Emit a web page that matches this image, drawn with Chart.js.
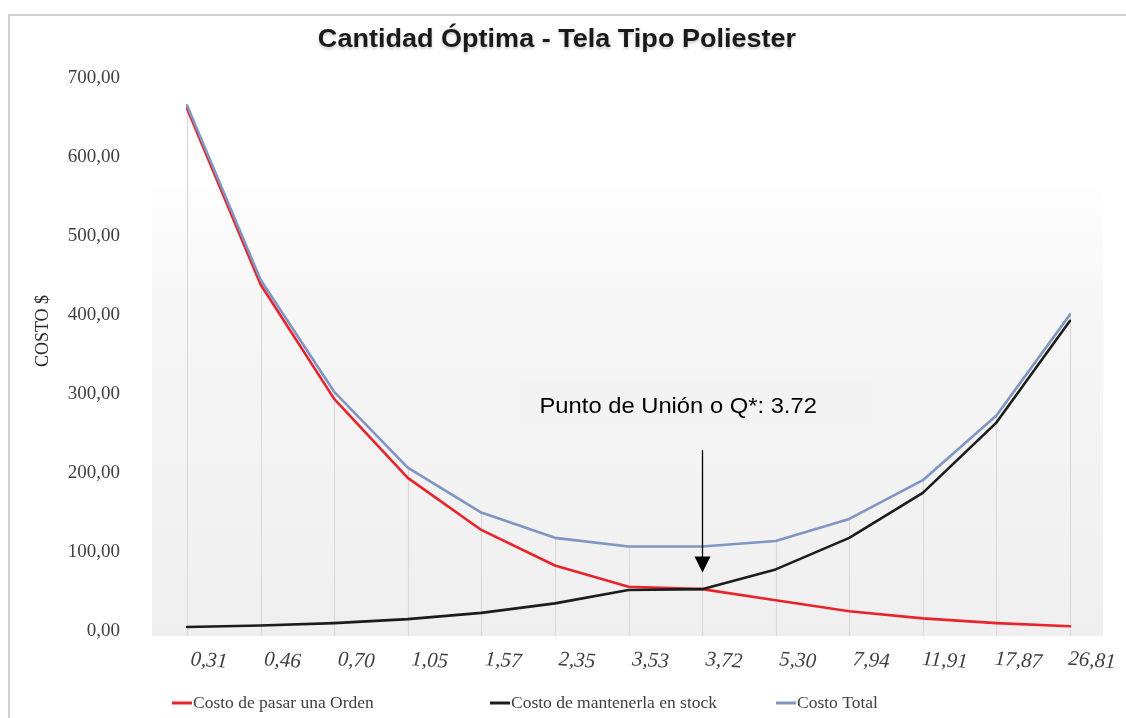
<!DOCTYPE html>
<html>
<head>
<meta charset="utf-8">
<script src="https://cdn.jsdelivr.net/npm/chart.js@4.4.1/dist/chart.umd.min.js"></script>
<style>
  html, body { margin: 0; padding: 0; background: #ffffff; }
  #wrap { width: 1126px; height: 718px; position: relative; }
</style>
</head>
<body>
<div id="wrap"><canvas id="grafico" width="1126" height="718"></canvas></div>
<script>
// Cantidades de pedido (Q) en el eje horizontal
const cantidades = ['0,31', '0,46', '0,70', '1,05', '1,57', '2,35', '3,53', '3,72', '5,30', '7,94', '11,91', '17,87', '26,81'];
// Costos por serie ($)
const costoOrden    = [662, 439, 294, 194, 128, 83, 56, 53, 39, 25, 16, 10, 6];
const costoMantener = [5, 7, 10, 15, 23, 35, 52, 53, 78, 118, 175, 264, 393];
const costoTotal    = [666, 445, 303, 207, 150, 118, 107, 107, 114, 142, 191, 273, 401];
// Etiquetas del eje vertical
const yTickLabels = ['0,00', '100,00', '200,00', '300,00', '400,00', '500,00', '600,00', '700,00'];
const nombresSeries = ['Costo de pasar una Orden', 'Costo de mantenerla en stock', 'Costo Total'];
const coloresSeries = ['#e8232b', '#1c1c1c', '#7f95c2'];
const tituloGrafico = 'Cantidad Óptima - Tela Tipo Poliester';
const tituloEjeY = 'COSTO $';
const notaTexto = 'Punto de Unión o Q*: 3.72';
const notaIndice = 7;

const SERIF = '"Liberation Serif", "Times New Roman", serif';
const SANS = '"Liberation Sans", Arial, sans-serif';

// Texto con un leve ensanche horizontal
function textoAncho(ctx, txt, x, y, sx) {
  ctx.save();
  ctx.translate(x, y);
  ctx.scale(sx, 1);
  ctx.fillText(txt, 0, 0);
  ctx.restore();
}

// Fondo, marco, área sombreada del gráfico
const fondoPlugin = {
  id: 'fondo',
  beforeDraw(chart) {
    const { ctx, chartArea: ca, scales } = chart;
    ctx.save();
    ctx.fillStyle = '#ffffff';
    ctx.fillRect(0, 0, chart.width, chart.height);
    // marco exterior
    ctx.strokeStyle = '#d0d0d0';
    ctx.lineWidth = 2;
    ctx.beginPath();
    ctx.moveTo(9, chart.height + 2);
    ctx.lineTo(9, 15);
    ctx.lineTo(chart.width + 2, 15);
    ctx.stroke();
    // área de trazado con degradado suave
    const top = scales.y.getPixelForValue(560);
    const bottom = ca.bottom + 5;
    const g = ctx.createLinearGradient(0, top, 0, bottom);
    g.addColorStop(0, 'rgba(246,246,246,0.2)');
    g.addColorStop(0.25, '#f7f7f7');
    g.addColorStop(1, '#efefef');
    ctx.fillStyle = g;
    ctx.fillRect(ca.left - 35, top, (ca.right + 33) - (ca.left - 35), bottom - top);
    ctx.restore();
  },
  beforeDatasetsDraw(chart) {
    // líneas de caída desde el valor mayor hasta la base
    const { ctx, chartArea: ca, scales } = chart;
    ctx.save();
    ctx.strokeStyle = '#dadada';
    ctx.lineWidth = 1.2;
    cantidades.forEach((c, i) => {
      const x = Math.round(scales.x.getPixelForValue(i)) + 0.5;
      const maxV = Math.max(costoOrden[i], costoMantener[i], costoTotal[i]);
      ctx.beginPath();
      ctx.moveTo(x, scales.y.getPixelForValue(maxV));
      ctx.lineTo(x, ca.bottom + 5);
      ctx.stroke();
    });
    ctx.restore();
  },
  afterDraw(chart) {
    const { ctx, scales } = chart;
    ctx.save();
    // título
    ctx.font = 'bold 26px ' + SANS;
    ctx.fillStyle = '#1a1a1a';
    ctx.textAlign = 'center';
    ctx.textBaseline = 'middle';
    ctx.shadowColor = 'rgba(0,0,0,0.2)';
    ctx.shadowBlur = 3;
    ctx.shadowOffsetY = 2;
    textoAncho(ctx, tituloGrafico, 557, 40, 1.04);
    ctx.shadowColor = 'transparent';

    // título del eje vertical
    ctx.save();
    ctx.translate(43, 331);
    ctx.rotate(-Math.PI / 2);
    ctx.font = '18px ' + SERIF;
    ctx.fillStyle = '#262626';
    ctx.fillText(tituloEjeY, 0, 0);
    ctx.restore();

    // etiquetas del eje horizontal
    ctx.font = 'italic 21px ' + SERIF;
    ctx.fillStyle = '#404040';
    cantidades.forEach((c, i) => {
      const x = scales.x.getPixelForValue(i) + 22;
      ctx.save();
      ctx.translate(x, 661);
      ctx.rotate(4 * Math.PI / 180);
      ctx.textAlign = 'center';
      ctx.textBaseline = 'middle';
      ctx.fillText(c, 0, 0);
      ctx.restore();
    });

    // leyenda
    const leyX = [172, 490, 776];
    ctx.font = '17.5px ' + SERIF;
    ctx.textAlign = 'left';
    ctx.textBaseline = 'middle';
    nombresSeries.forEach((n, i) => {
      ctx.strokeStyle = coloresSeries[i];
      ctx.lineWidth = 3;
      ctx.beginPath();
      ctx.moveTo(leyX[i], 703);
      ctx.lineTo(leyX[i] + 20, 703);
      ctx.stroke();
      ctx.fillStyle = '#404040';
      ctx.fillText(n, leyX[i] + 21, 703);
    });

    // nota del punto de unión
    const ax = Math.round(scales.x.getPixelForValue(notaIndice)) + 0.5;
    const bTop = scales.y.getPixelForValue(314);
    const bBot = scales.y.getPixelForValue(253);
    ctx.fillStyle = '#f3f3f3';
    ctx.fillRect(ax - 183, bTop, 353, bBot - bTop);
    ctx.fillStyle = '#000000';
    ctx.font = '22px ' + SANS;
    ctx.textAlign = 'left';
    textoAncho(ctx, notaTexto, ax - 163, (bTop + bBot) / 2, 1.08);

    const aTop = scales.y.getPixelForValue(229);
    const aTip = scales.y.getPixelForValue(74);
    ctx.strokeStyle = '#000000';
    ctx.lineWidth = 1.3;
    ctx.beginPath();
    ctx.moveTo(ax, aTop);
    ctx.lineTo(ax, aTip - 14);
    ctx.stroke();
    ctx.beginPath();
    ctx.moveTo(ax - 8, aTip - 16);
    ctx.lineTo(ax + 8, aTip - 16);
    ctx.lineTo(ax, aTip);
    ctx.closePath();
    ctx.fill();
    ctx.restore();
  }
};

const datasets = [
  { label: nombresSeries[0], data: costoOrden, borderColor: coloresSeries[0], order: 3 },
  { label: nombresSeries[1], data: costoMantener, borderColor: coloresSeries[1], order: 2 },
  { label: nombresSeries[2], data: costoTotal, borderColor: coloresSeries[2], order: 1 }
].map(d => Object.assign(d, {
  borderWidth: 2.6,
  pointRadius: 0,
  pointHoverRadius: 0,
  tension: 0,
  fill: false,
  backgroundColor: d.borderColor,
  borderJoinStyle: 'round',
  borderCapStyle: 'round'
}));

new Chart(document.getElementById('grafico'), {
  type: 'line',
  data: { labels: cantidades, datasets },
  options: {
    responsive: false,
    devicePixelRatio: 1,
    animation: false,
    layout: { padding: { top: 74, right: 56, bottom: 87, left: 0 } },
    plugins: {
      legend: { display: false },
      title: { display: false },
      tooltip: { enabled: false }
    },
    scales: {
      x: {
        type: 'category',
        offset: false,
        grid: { display: false, drawTicks: false },
        border: { display: false },
        ticks: { display: false },
        afterFit(s) { s.height = 0; }
      },
      y: {
        min: 0,
        max: 700,
        grid: { display: false, drawTicks: false },
        border: { display: false },
        ticks: {
          stepSize: 100,
          padding: 67,
          color: '#404040',
          font: { family: SERIF, size: 19 },
          callback: (v) => yTickLabels[Math.round(v / 100)]
        },
        afterFit(s) { s.width = 187; }
      }
    }
  },
  plugins: [fondoPlugin]
});
</script>
</body>
</html>
